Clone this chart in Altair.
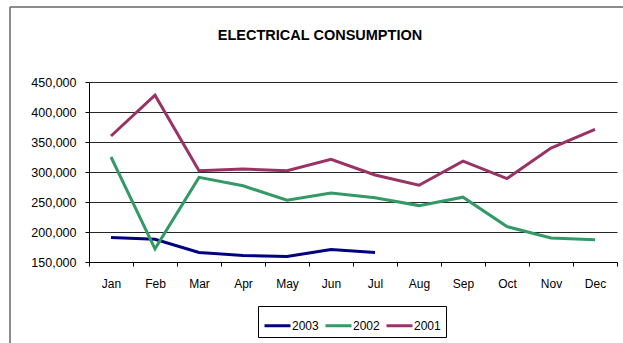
import altair as alt
import pandas as pd

# Monthly electrical consumption per year
months = ["Jan", "Feb", "Mar", "Apr", "May", "Jun", "Jul", "Aug", "Sep", "Oct", "Nov", "Dec"]
years = ["2003", "2002", "2001"]
usage_2003 = [191000, 188000, 166000, 161000, 159000, 171000, 166000]
usage_2002 = [325000, 172000, 291000, 277000, 253000, 265000, 257000, 244000, 258000, 209000, 190000, 187000]
usage_2001 = [360000, 428000, 302000, 305000, 302000, 321000, 295000, 278000, 318000, 289000, 340000, 371000]
y_ticks = [150000, 200000, 250000, 300000, 350000, 400000, 450000]
colors = ["#000080", "#339966", "#993366"]

rows = []
for year, series in zip(years, [usage_2003, usage_2002, usage_2001]):
    for m, v in zip(months, series):
        rows.append({"month": m, "year": year, "kwh": v})
df = pd.DataFrame(rows)

FONT = "Liberation Sans"
W, H = 528, 180
LEFT, TOP = 89, 82

lines = alt.Chart(df).mark_line(strokeWidth=3, clip=False).encode(
    x=alt.X(
        "month:N",
        sort=months,
        scale=alt.Scale(domain=months, paddingInner=0, paddingOuter=0),
        axis=alt.Axis(
            title=None, labelAngle=0, tickBand="extent", grid=False,
            domainColor="#000", tickColor="#000", tickSize=4,
            labelPadding=12, labelFont=FONT, labelFontSize=12, labelColor="#000",
        ),
    ),
    y=alt.Y(
        "kwh:Q",
        scale=alt.Scale(domain=[150000, 450000], nice=False, zero=False),
        axis=alt.Axis(
            title=None, values=y_ticks, format=",d", grid=True,
            gridColor="#000", gridWidth=1, gridOpacity=0.85,
            domainColor="#000", tickColor="#000", tickSize=4,
            labelPadding=9, labelFont=FONT, labelFontSize=12.5, labelColor="#000",
        ),
    ),
    color=alt.Color(
        "year:N",
        sort=years,
        scale=alt.Scale(domain=years, range=colors),
        legend=alt.Legend(
            title=None, orient="none", direction="horizontal",
            legendX=169, legendY=224,
            symbolType="stroke", symbolSize=676, symbolStrokeWidth=3,
            labelFont=FONT, labelFontSize=12, labelColor="#000",
            labelOffset=0, columnPadding=0, padding=5,
            strokeColor="#000", fillColor="#fff",
        ),
    ),
)

title = alt.Chart(alt.Data(values=[{}])).mark_text(
    text="ELECTRICAL  CONSUMPTION", font=FONT, fontSize=14.5, fontWeight="bold",
    color="#000", align="center", baseline="middle",
).encode(x=alt.value(320 - LEFT), y=alt.value(36 - TOP))

frame_left = alt.Chart(alt.Data(values=[{}])).mark_rule(color="#666", strokeWidth=1.5).encode(
    x=alt.value(10 - LEFT), y=alt.value(7 - TOP), y2=alt.value(343 - TOP)
)
frame_top = alt.Chart(alt.Data(values=[{}])).mark_rule(color="#666", strokeWidth=1.5).encode(
    x=alt.value(10 - LEFT), x2=alt.value(623 - LEFT), y=alt.value(7 - TOP)
)

chart = alt.layer(frame_left, frame_top, lines, title).properties(
    width=W, height=H,
    autosize=alt.AutoSizeParams(type="none"),
    padding={"left": LEFT, "top": TOP, "right": 623 - LEFT - W, "bottom": 343 - TOP - H},
    background="#ffffff",
).configure_view(stroke=None)

chart.save("out.html", embed_options={"renderer": "svg", "actions": False})
